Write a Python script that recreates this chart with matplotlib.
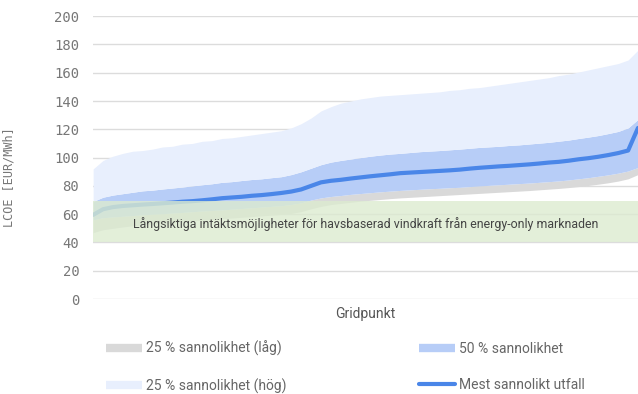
import numpy as np
import matplotlib.pyplot as plt
from matplotlib.lines import Line2D

# LCOE per gridpunkt (EUR/MWh), sorterat efter mest sannolikt utfall
low = [47, 49, 50, 51, 51.8, 52.5, 53, 53.5, 54, 54.6, 55.2, 55.8, 56.3, 56.8, 57.3, 57.8,
       58.3, 58.8, 59.3, 59.8, 60.5, 61.8, 63.8, 65.5, 66.8, 67.6, 68.4, 69.2, 69.8, 70.4,
       71, 71.5, 71.9, 72.3, 72.7, 73.1, 73.5, 73.9, 74.3, 74.7, 75.1, 75.5, 75.9, 76.3,
       76.7, 77.2, 77.7, 78.2, 78.8, 79.5, 80.3, 81.2, 82.2, 83.4, 85, 88]
q25 = [56, 57.5, 58, 58.5, 59, 59.5, 60, 60.3, 60.8, 61.2, 61.7, 62.2, 62.6, 63, 63.5, 64,
       64.5, 65, 65.5, 66, 66.8, 68, 70, 71.5, 72.5, 73.2, 74, 74.6, 75.2, 75.8, 76.3, 76.8,
       77.2, 77.6, 78, 78.3, 78.7, 79, 79.5, 80, 80.4, 80.8, 81.2, 81.6, 82, 82.5, 83, 83.5,
       84.2, 85, 85.8, 86.8, 87.8, 89, 90.5, 93]
likely = [59.5, 63.5, 65, 65.8, 66.3, 66.8, 67.2, 67.7, 68.2, 68.8, 69.2, 69.8, 70.5, 71.3,
          71.8, 72.3, 73, 73.5, 74.2, 75, 76, 77.5, 80, 82.5, 83.6, 84.3, 85.2, 86, 86.8,
          87.5, 88.2, 89, 89.4, 89.8, 90.2, 90.6, 91, 91.5, 92.2, 92.8, 93.3, 93.8, 94.2,
          94.7, 95.2, 95.8, 96.5, 97, 97.8, 98.8, 99.6, 100.6, 101.8, 103.2, 105, 121]
q75 = [69, 72, 73.5, 74.5, 75.5, 76.5, 77, 77.8, 78.5, 79.2, 80, 80.8, 81.5, 82.5, 83, 83.8,
       84.5, 85, 85.8, 86.5, 88, 90, 92.5, 95, 96.8, 98, 99, 100, 101, 101.8, 102.5, 103,
       103.6, 104.2, 104.6, 105, 105.5, 106, 106.6, 107.2, 107.6, 108, 108.6, 109, 109.6,
       110.2, 110.8, 111.6, 112.4, 113.5, 114.5, 115.6, 117, 118.5, 121, 127]
high = [92, 98, 101, 103, 104.5, 105, 106, 107.5, 108, 109.5, 110, 111.5, 112, 113.5, 114,
        115, 116, 117, 118, 119, 121, 124, 128, 133, 136, 138.5, 140, 141.5, 142.5, 143.5,
        144, 144.5, 145, 145.5, 146, 146.5, 147.5, 148, 149, 149.5, 150.5, 151.5, 152.5,
        153.5, 154.5, 155.5, 156.5, 158, 159, 160.5, 162, 163.5, 165, 166.5, 169, 176]
band = (40, 69)  # långsiktiga intäktsmöjligheter

x = np.arange(len(likely))

GRAY = '#d9d9d9'
MID = '#b7cdf7'
LIGHT = '#e8effd'
LINE = '#4a86e8'
GREEN = '#dcebd0'

fig = plt.figure(figsize=(6.38, 3.94), dpi=100)
ax = fig.add_axes([0.146, 0.241, 0.854, 0.718])

ax.fill_between(x, low, q25, color=GRAY, lw=0)
ax.fill_between(x, q25, q75, color=MID, lw=0)
ax.fill_between(x, q75, high, color=LIGHT, lw=0)
ax.plot(x, likely, color=LINE, lw=3, solid_capstyle='round', zorder=3)
ax.axhspan(band[0], band[1], color=GREEN, alpha=0.8, lw=0, zorder=4)

ax.text((x[0] + x[-1]) / 2, 53, 'Långsiktiga intäktsmöjligheter för havsbaserad vindkraft från energy-only marknaden',
        ha='center', va='center', fontsize=8.9, color='#444444', family='Roboto', zorder=5)

ax.set_xlim(x[0], x[-1])
ax.set_ylim(0, 200)
ax.set_yticks(np.arange(0, 201, 20))
ax.set_xticks([])
ax.grid(axis='y', color='#dcdcdc', lw=1)
ax.set_axisbelow(True)
for s in ax.spines.values():
    s.set_visible(False)
ax.tick_params(axis='y', length=0, pad=10, labelsize=10, labelcolor='#777777')
for t in ax.get_yticklabels():
    t.set_family('DejaVu Sans Mono')
ax.set_ylabel('LCOE [EUR/MWh]', family='DejaVu Sans Mono', fontsize=8.5, color='#777777')
ax.yaxis.set_label_coords(-0.143, 0.43)
ax.set_xlabel('Gridpunkt', family='Roboto', fontsize=10, color='#555555', labelpad=6)

handles = [Line2D([], [], color=GRAY, lw=6, solid_capstyle='butt'),
           Line2D([], [], color=LIGHT, lw=6, solid_capstyle='butt'),
           Line2D([], [], color=MID, lw=6, solid_capstyle='butt'),
           Line2D([], [], color=LINE, lw=3, solid_capstyle='round')]
labels = ['25 % sannolikhet (låg)', '25 % sannolikhet (hög)', '50 % sannolikhet', 'Mest sannolikt utfall']
leg = fig.legend(handles, labels, ncol=2, loc='upper left', bbox_to_anchor=(0.166, 0.135),
                 frameon=False, handlelength=2.6, handletextpad=0.3, labelspacing=1.6,
                 columnspacing=9.5, borderaxespad=0, borderpad=0,
                 prop={'family': 'Roboto', 'size': 10})
for t in leg.get_texts():
    t.set_color('#666666')

fig.savefig('out.png', dpi=100)
